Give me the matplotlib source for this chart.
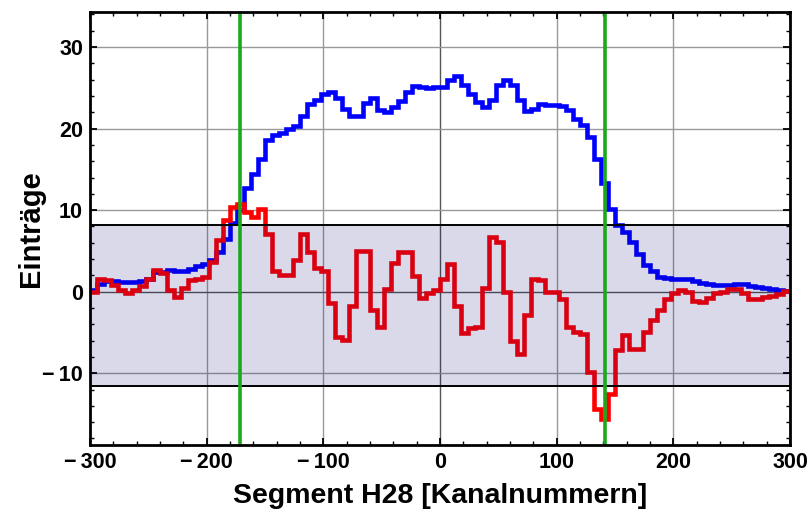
import numpy as np
import matplotlib
matplotlib.use("Agg")
import matplotlib.pyplot as plt
from matplotlib.ticker import MultipleLocator, FixedLocator

# ---- data ----
bin_edges = np.arange(-300, 301, 6)

blue_values = [
    0.2, 1.0, 1.3, 1.3, 1.2, 1.2, 1.2, 1.3, 1.6, 2.45,
    2.45, 2.7, 2.55, 2.55, 2.8, 3.1, 3.4, 3.9, 4.9, 6.5,
    8.4, 10.0, 12.7, 14.4, 16.3, 18.6, 19.2, 19.5, 20.0, 20.3,
    21.6, 23.0, 23.5, 24.2, 24.5, 23.8, 22.4, 21.5, 21.5, 23.2,
    23.7, 22.3, 22.0, 22.6, 23.4, 24.5, 25.2, 25.1, 25.0, 25.1,
    25.1, 25.9, 26.4, 25.3, 24.3, 23.3, 22.6, 23.5, 25.3, 26.0,
    25.3, 23.5, 22.2, 22.4, 23.0, 22.9, 22.9, 22.8, 22.3, 21.2,
    20.4, 19.0, 16.3, 13.3, 10.2, 8.2, 7.3, 6.1, 4.6, 3.3,
    2.5, 1.8, 1.7, 1.6, 1.6, 1.5, 1.3, 1.1, 0.9, 0.85,
    0.8, 0.8, 0.9, 0.9, 0.7, 0.6, 0.4, 0.3, 0.2, 0.1,
]

red_values = [
    0.0, 1.6, 1.45, 0.8, 0.2, -0.2, 0.2, 0.7, 1.6, 2.6,
    2.3, 0.2, -0.6, 0.4, 1.4, 1.6, 1.8, 3.7, 6.3, 8.8,
    10.4, 10.8, 9.8, 9.2, 10.1, 7.1, 2.5, 2.1, 2.0, 3.9,
    7.1, 4.9, 2.9, 2.5, -1.4, -5.5, -5.9, -1.8, 5.0, 5.0,
    -2.2, -4.3, 0.3, 3.5, 4.9, 4.9, 1.9, -0.8, -0.1, 0.2,
    1.6, 3.4, -1.8, -5.1, -4.5, -4.3, 0.4, 6.7, 6.1, 0.0,
    -6.1, -7.7, -2.8, 1.6, 1.4, 0.0, 0.0, -0.9, -4.3, -4.9,
    -5.2, -9.9, -14.4, -15.6, -12.6, -7.2, -5.3, -7.0, -7.0, -5.0,
    -3.5, -2.2, -0.9, -0.1, 0.2, 0.0, -1.1, -1.3, -0.8, -0.2,
    0.0, 0.3, 0.3, -0.2, -0.9, -0.9, -0.7, -0.5, -0.3, 0.1,
]

band_low = -11.6
band_high = 8.15
cut_positions = [-171.5, 141.5]

x_ticks = [-300, -200, -100, 0, 100, 200, 300]
y_ticks = [-10, 0, 10, 20, 30]
x_label = "Segment H28 [Kanalnummern]"
y_label = "Einträge"

# ---- figure ----
plt.rcParams['font.family'] = ['Liberation Sans', 'DejaVu Sans']
fig = plt.figure(figsize=(8.11, 5.14), dpi=100)
ax = fig.add_axes([90/811, 1-445/514, 700/811, 433/514])

ax.set_xlim(-300, 300)
ax.set_ylim(-18.8, 34.3)

# grid
for xv in x_ticks[1:-1]:
    ax.axvline(xv, color='#555555' if xv == 0 else '#999999', lw=1.0, zorder=1)
for yv in y_ticks:
    ax.axhline(yv, color='#555555' if yv == 0 else '#999999', lw=1.0, zorder=1)

ax.stairs(blue_values, bin_edges, color='#0000ff', lw=3.3, zorder=3, baseline=None)
ax.stairs(red_values, bin_edges, color='#ff0000', lw=3.3, zorder=4, baseline=None)

ax.axhspan(band_low, band_high, color=(0, 0, 0.45), alpha=0.15, lw=0, zorder=5)
ax.axhline(band_low, color='black', lw=1.4, zorder=6)
ax.axhline(band_high, color='black', lw=1.4, zorder=6)

for xc in cut_positions:
    ax.axvline(xc, color='#1ca81c', lw=2.6, zorder=7)


def fmt(v):
    return f"\u2212\u2009{abs(v)}" if v < 0 else f"{v}"


ax.xaxis.set_major_locator(FixedLocator(x_ticks))
ax.yaxis.set_major_locator(FixedLocator(y_ticks))
ax.xaxis.set_minor_locator(MultipleLocator(20))
ax.yaxis.set_minor_locator(MultipleLocator(2))
ax.set_xticklabels([fmt(v) for v in x_ticks], fontsize=15.5, fontweight='bold')
ax.set_yticklabels([fmt(v) for v in y_ticks], fontsize=15.5, fontweight='bold')
ax.tick_params(which='both', direction='in', top=True, right=True, color='black')
ax.tick_params(which='major', length=5, width=1.3, pad=5)
ax.tick_params(which='minor', length=3, width=1.0)
for s in ax.spines.values():
    s.set_linewidth(2.0)
    s.set_zorder(10)

ax.set_xlabel(x_label, fontsize=20.5, fontweight='bold', labelpad=7)
ax.set_ylabel(y_label, fontsize=21, fontweight='bold')
ax.yaxis.set_label_coords(-0.064, 0.5)

fig.savefig("out.png", dpi=100)
